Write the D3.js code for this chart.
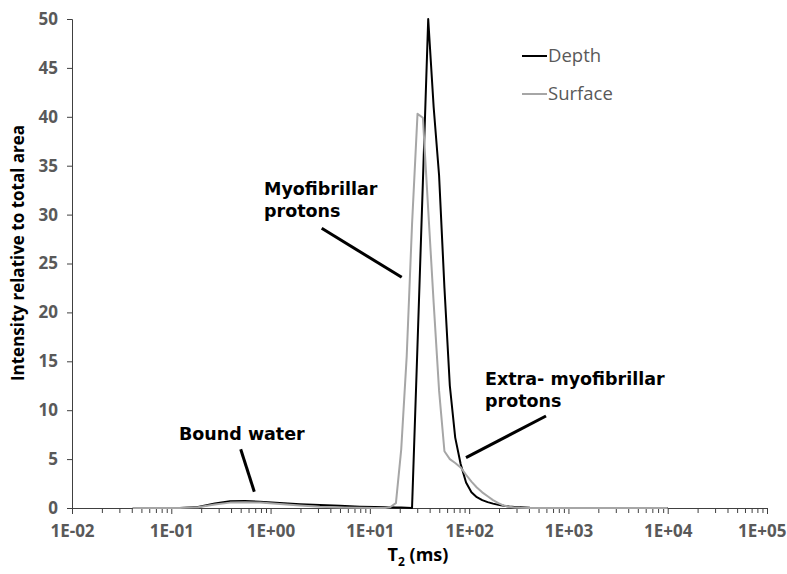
<!DOCTYPE html>
<html>
<head>
<meta charset="utf-8">
<script src="https://cdn.jsdelivr.net/npm/d3@7/dist/d3.min.js"></script>
<style>
  html, body { margin: 0; padding: 0; background: #fff; }
  svg { display: block; }
</style>
</head>
<body>
<div id="chart"></div>
<script>
// ---- Data ----
const t2 = [0.041, 0.077, 0.122, 0.186, 0.275, 0.39, 0.55, 0.78, 1.24, 1.98, 3.14, 5.0, 7.95, 11.25, 14.2, 16.1, 18.3, 20.7, 23.5, 26.6, 30.2, 34.2, 38.7, 43.9, 49.8, 56.4, 63.9, 72.4, 82.1, 93.1, 105.5, 119.5, 135.5, 153.6, 174.0, 197.3, 223.6, 253.4, 287.2, 325.6, 409, 579, 821, 2076, 10000];
const depth = [0, 0, 0, 0.1, 0.45, 0.7, 0.72, 0.65, 0.5, 0.38, 0.3, 0.22, 0.14, 0.1, 0.08, 0.07, 0.06, 0.05, 0.03, 0, 16.7, 33.3, 50, 41, 34, 22.5, 12.5, 7.2, 4.5, 2.6, 1.6, 1.1, 0.8, 0.6, 0.45, 0.32, 0.22, 0.15, 0.1, 0.07, 0.03, 0.01, 0, 0, 0];
const surface = [0, 0, 0, 0.08, 0.35, 0.55, 0.6, 0.55, 0.4, 0.25, 0.12, 0.05, 0.02, 0, 0, 0.1, 0.5, 6, 15.5, 29, 40.3, 39.9, 30.5, 21, 12, 5.8, 5.0, 4.6, 4.15, 3.4, 2.7, 2.1, 1.6, 1.2, 0.8, 0.5, 0.25, 0.12, 0.05, 0.02, 0, 0, 0, 0, 0];
const seriesNames = ["Depth", "Surface"];
const xTickValues = [0.01, 0.1, 1, 10, 100, 1000, 10000, 100000];
const xTickLabels = ["1E-02", "1E-01", "1E+00", "1E+01", "1E+02", "1E+03", "1E+04", "1E+05"];
const yTickValues = [0, 5, 10, 15, 20, 25, 30, 35, 40, 45, 50];
const annotations = [
  { lines: ["Myofibrillar", "protons"], at: [264, 195], from: [321.7, 228.3], to: [401.7, 277.3] },
  { lines: ["Bound water"], at: [179, 440], from: [240.7, 449.3], to: [254.3, 491.7] },
  { lines: ["Extra- myofibrillar", "protons"], at: [485, 385], from: [546, 416], to: [466, 457.7] }
];

(function () {
// ---- Layout ----
const W = 787, H = 574;
const mLeft = 72, mRight = 767, mTop = 19, mBottom = 508;

const svg = d3.select("#chart").append("svg").attr("width", W).attr("height", H);

const x = d3.scaleLog().domain([0.01, 100000]).range([mLeft, mRight]);
const y = d3.scaleLinear().domain([0, 50]).range([mBottom, mTop]);

const labelColor = "#595959";

// Y axis
const yAxis = svg.append("g").attr("transform", `translate(${mLeft},0)`)
  .call(d3.axisLeft(y).tickValues(yTickValues).tickSize(5).tickPadding(9).tickFormat(d3.format("d")));
yAxis.select(".domain").attr("stroke", "#404040").attr("stroke-width", 1);
yAxis.selectAll(".tick line").attr("stroke", "#404040");
yAxis.selectAll(".tick text").attr("fill", labelColor)
  .style("font-family", "'Open Sans', sans-serif").style("font-weight", "bold").style("font-size", "17px");

// X axis minor ticks
const minor = [];
for (let e = -2; e < 5; e++) for (let k = 2; k <= 9; k++) minor.push(k * Math.pow(10, e));
const xMinor = svg.append("g").attr("transform", `translate(0,${mBottom})`)
  .call(d3.axisBottom(x).tickValues(minor).tickSize(5).tickFormat(""));
xMinor.select(".domain").remove();
xMinor.selectAll(".tick line").attr("stroke", "#404040");

// X axis major
const xAxis = svg.append("g").attr("transform", `translate(0,${mBottom})`)
  .call(d3.axisBottom(x).tickValues(xTickValues).tickSize(6).tickPadding(11)
    .tickFormat((d, i) => xTickLabels[i]));
xAxis.select(".domain").attr("stroke", "#404040").attr("stroke-width", 1);
xAxis.selectAll(".tick line").attr("stroke", "#404040");
xAxis.selectAll(".tick text").attr("fill", labelColor)
  .style("font-family", "'Open Sans', sans-serif").style("font-weight", "bold").style("font-size", "17px");
// keep the last label inside the page
xAxis.selectAll(".tick text").filter((d, i) => i === xTickValues.length - 1)
  .attr("text-anchor", "end").attr("x", W - 1 - mRight);

// Lines
const line = d3.line().x(d => x(d[0])).y(d => y(d[1]));
const depthData = t2.map((t, i) => [t, depth[i]]);
const surfaceData = t2.map((t, i) => [t, surface[i]]);
const colors = { Depth: "#000000", Surface: "#a6a6a6" };

svg.append("path").datum(depthData).attr("d", line)
  .attr("fill", "none").attr("stroke", colors.Depth).attr("stroke-width", 2).attr("stroke-linejoin", "round");
svg.append("path").datum(surfaceData).attr("d", line)
  .attr("fill", "none").attr("stroke", colors.Surface).attr("stroke-width", 2).attr("stroke-linejoin", "round");

// Legend
const legend = svg.append("g");
seriesNames.forEach((name, i) => {
  const ly = 56 + i * 38;
  legend.append("line").attr("x1", 522).attr("x2", 547).attr("y1", ly).attr("y2", ly)
    .attr("stroke", colors[name]).attr("stroke-width", 2);
  legend.append("text").attr("x", 548).attr("y", ly).attr("dy", "0.35em")
    .attr("fill", labelColor).style("font-family", "'Open Sans', sans-serif").style("font-size", "18.5px")
    .text(name);
});

// Axis titles
svg.append("text").attr("transform", `translate(24,253) rotate(-90)`)
  .attr("text-anchor", "middle").attr("fill", "#000")
  .style("font-family", "'Open Sans', sans-serif").style("font-weight", "bold").style("font-size", "17px")
  .text("Intensity relative to total area");

const xt = svg.append("text").attr("x", 418).attr("y", 561).attr("text-anchor", "middle").attr("fill", "#000")
  .style("font-family", "'Open Sans', sans-serif").style("font-weight", "bold").style("font-size", "18px");
xt.append("tspan").text("T");
xt.append("tspan").attr("dy", 5).style("font-size", "12px").text("2");
xt.append("tspan").attr("dy", -5).text(" (ms)");

// Annotations
annotations.forEach(a => {
  const t = svg.append("text").attr("x", a.at[0]).attr("y", a.at[1]).attr("fill", "#000")
    .style("font-family", "'DejaVu Sans', Verdana, sans-serif").style("font-weight", "bold").style("font-size", "17.5px");
  a.lines.forEach((l, i) => t.append("tspan").attr("x", a.at[0]).attr("dy", i === 0 ? 0 : 21.5).text(l));
  svg.append("line").attr("x1", a.from[0]).attr("y1", a.from[1]).attr("x2", a.to[0]).attr("y2", a.to[1])
    .attr("stroke", "#000").attr("stroke-width", 3);
});
})();
</script>
</body>
</html>
